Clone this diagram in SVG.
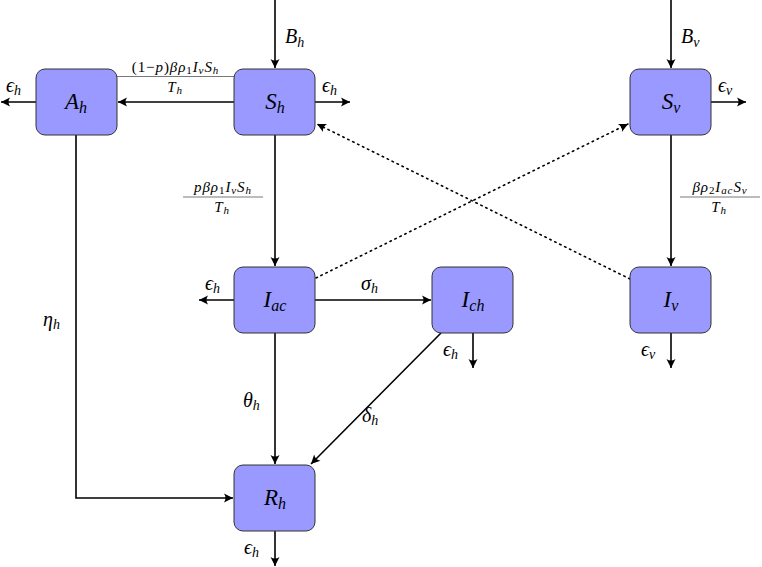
<svg xmlns="http://www.w3.org/2000/svg" width="762" height="567" viewBox="0 0 762 567">
<style>
.node rect{fill:#9999ff;stroke:#333;stroke-width:1}
.t{font-family:"Liberation Serif","DejaVu Serif",serif;font-style:italic;fill:#000}
.nl{font-size:23px}
.el{font-size:20px}
.fr{font-size:15px;letter-spacing:0.9px}
.up{font-style:normal}
.e{stroke:#000;stroke-width:1.6;fill:none}
.d{stroke:#000;stroke-width:1.6;fill:none;stroke-dasharray:1.5 4;stroke-linecap:round}
.bar{stroke:#555;stroke-width:0.8}
</style>
<defs>
<marker id="ar" viewBox="-10 -5 11 10" refX="0" refY="0" markerWidth="11" markerHeight="10" markerUnits="userSpaceOnUse" orient="auto">
<path d="M0,0 L-9,-4.5 Q-6,0 -9,4.5 Z" fill="#000"/>
</marker>
</defs>
<g id="connectors">
<line class="e" x1="275" y1="0" x2="275" y2="68" marker-end="url(#ar)"/>
<line class="e" x1="671" y1="0" x2="671" y2="68" marker-end="url(#ar)"/>
<line class="e" x1="234" y1="102" x2="118" y2="102" marker-end="url(#ar)"/>
<line class="e" x1="36" y1="102" x2="1" y2="102" marker-end="url(#ar)"/>
<line class="e" x1="315" y1="102" x2="350" y2="102" marker-end="url(#ar)"/>
<line class="e" x1="711" y1="102" x2="746" y2="102" marker-end="url(#ar)"/>
<line class="e" x1="275" y1="135" x2="275" y2="266" marker-end="url(#ar)"/>
<line class="e" x1="671" y1="135" x2="671" y2="266" marker-end="url(#ar)"/>
<line class="e" x1="234" y1="300" x2="199" y2="300" marker-end="url(#ar)"/>
<line class="e" x1="315" y1="300" x2="431" y2="300" marker-end="url(#ar)"/>
<line class="e" x1="473" y1="333" x2="473" y2="368" marker-end="url(#ar)"/>
<line class="e" x1="671" y1="333" x2="671" y2="368" marker-end="url(#ar)"/>
<line class="e" x1="275" y1="333" x2="275" y2="464" marker-end="url(#ar)"/>
<line class="e" x1="441" y1="333" x2="311" y2="464" marker-end="url(#ar)"/>
<polyline class="e" points="76,135 76,498 233,498" marker-end="url(#ar)"/>
<line class="e" x1="275" y1="531" x2="275" y2="566" marker-end="url(#ar)"/>
<line class="d" x1="316" y1="278" x2="628" y2="124" marker-end="url(#ar)"/>
<line class="d" x1="630" y1="279" x2="317" y2="124" marker-end="url(#ar)"/>
<line class="bar" x1="117" y1="76.5" x2="234" y2="76.5"/>
<line class="bar" x1="183" y1="197" x2="263" y2="197"/>
<line class="bar" x1="680" y1="197" x2="760" y2="197"/>
</g>
<g id="labels" class="t">
<text class="el" x="285" y="43">B<tspan font-size="14" dy="4">h</tspan></text>
<text class="el" x="681" y="43">B<tspan font-size="14" dy="4">v</tspan></text>
<text class="el" x="6" y="92">ϵ<tspan font-size="14" dy="3">h</tspan></text>
<text class="el" x="322" y="92">ϵ<tspan font-size="14" dy="3">h</tspan></text>
<text class="el" x="718" y="92">ϵ<tspan font-size="14" dy="3">v</tspan></text>
<text class="el" x="205" y="290">ϵ<tspan font-size="14" dy="3">h</tspan></text>
<text class="el" x="361" y="290">σ<tspan font-size="14" dy="3">h</tspan></text>
<text class="el" x="443" y="356">ϵ<tspan font-size="14" dy="3">h</tspan></text>
<text class="el" x="641" y="356">ϵ<tspan font-size="14" dy="3">v</tspan></text>
<text class="el" x="243" y="407">θ<tspan font-size="14" dy="3">h</tspan></text>
<text class="el" x="362" y="422">δ<tspan font-size="14" dy="3">h</tspan></text>
<text class="el" x="43" y="326">η<tspan font-size="14" dy="3">h</tspan></text>
<text class="el" x="244" y="554">ϵ<tspan font-size="14" dy="3">h</tspan></text>
<text class="fr" x="175.5" y="72" text-anchor="middle"><tspan class="up">(1−</tspan>p<tspan class="up">)</tspan>βρ<tspan class="up" font-size="11" dy="2">1</tspan><tspan dy="-2">I</tspan><tspan font-size="11" dy="2">v</tspan><tspan dy="-2">S</tspan><tspan font-size="11" dy="2">h</tspan></text>
<text class="fr" x="175" y="92" text-anchor="middle">T<tspan font-size="11" dy="2">h</tspan></text>
<text class="fr" x="223" y="192" text-anchor="middle">pβρ<tspan class="up" font-size="11" dy="2">1</tspan><tspan dy="-2">I</tspan><tspan font-size="11" dy="2">v</tspan><tspan dy="-2">S</tspan><tspan font-size="11" dy="2">h</tspan></text>
<text class="fr" x="222" y="212" text-anchor="middle">T<tspan font-size="11" dy="2">h</tspan></text>
<text class="fr" x="720" y="192" text-anchor="middle">βρ<tspan class="up" font-size="11" dy="2">2</tspan><tspan dy="-2">I</tspan><tspan font-size="11" dy="2">ac</tspan><tspan dy="-2">S</tspan><tspan font-size="11" dy="2">v</tspan></text>
<text class="fr" x="719" y="212" text-anchor="middle">T<tspan font-size="11" dy="2">h</tspan></text>
</g>
<g id="A_h" class="node"><rect x="36" y="69" width="81" height="66" rx="9"/><text class="t nl" x="76" y="109" text-anchor="middle">A<tspan font-size="16" dy="4">h</tspan></text></g>
<g id="S_h" class="node"><rect x="234" y="69" width="81" height="66" rx="9"/><text class="t nl" x="275" y="109" text-anchor="middle">S<tspan font-size="16" dy="4">h</tspan></text></g>
<g id="S_v" class="node"><rect x="630" y="69" width="81" height="66" rx="9"/><text class="t nl" x="671" y="109" text-anchor="middle">S<tspan font-size="16" dy="4">v</tspan></text></g>
<g id="I_ac" class="node"><rect x="234" y="267" width="81" height="66" rx="9"/><text class="t nl" x="275" y="307" text-anchor="middle">I<tspan font-size="16" dy="4">ac</tspan></text></g>
<g id="I_ch" class="node"><rect x="432" y="267" width="81" height="66" rx="9"/><text class="t nl" x="473" y="307" text-anchor="middle">I<tspan font-size="16" dy="4">ch</tspan></text></g>
<g id="I_v" class="node"><rect x="630" y="267" width="81" height="66" rx="9"/><text class="t nl" x="671" y="307" text-anchor="middle">I<tspan font-size="16" dy="4">v</tspan></text></g>
<g id="R_h" class="node"><rect x="234" y="465" width="81" height="66" rx="9"/><text class="t nl" x="275" y="505" text-anchor="middle">R<tspan font-size="16" dy="4">h</tspan></text></g>
</svg>
